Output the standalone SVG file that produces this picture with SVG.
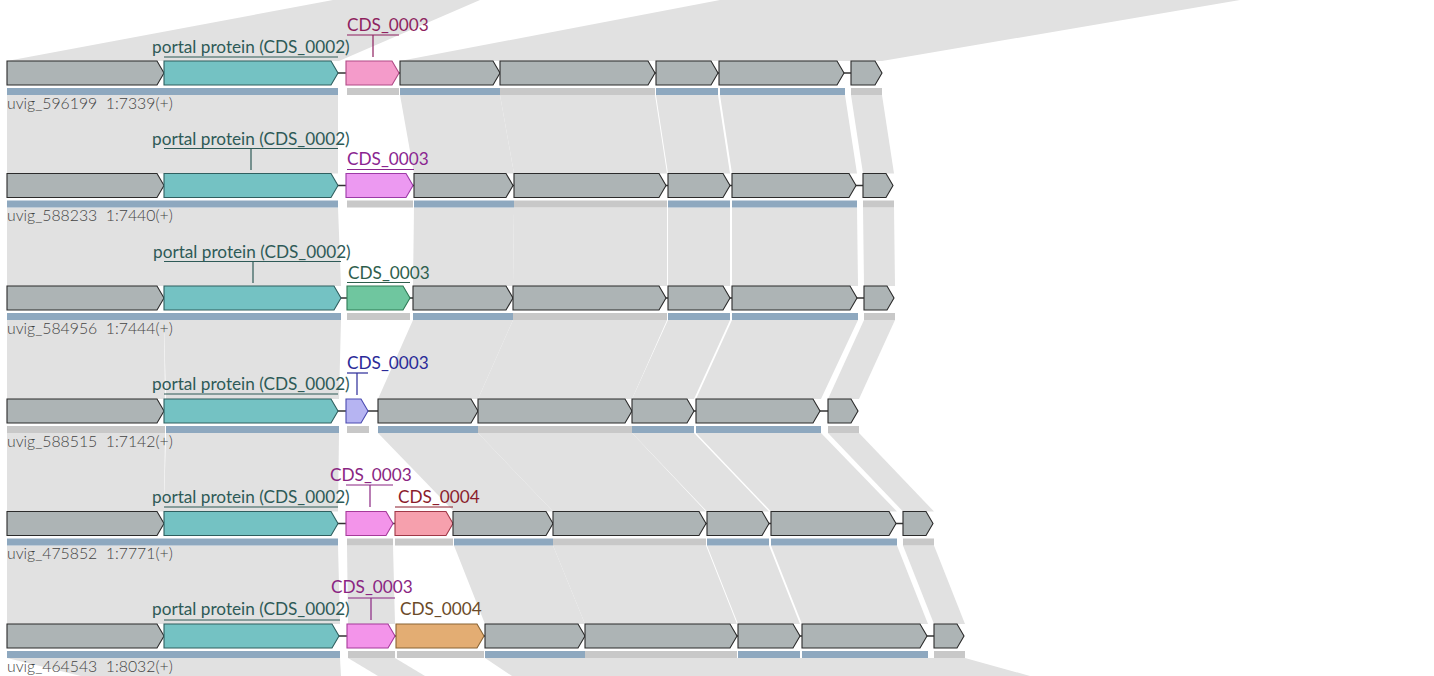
<svg xmlns="http://www.w3.org/2000/svg" width="1434" height="676" viewBox="0 0 1434 676">
<style>
.band{fill:#e1e1e1;stroke:none}
.spine{stroke:#333;stroke-width:1.5}
.g{stroke-width:1.1;stroke-linejoin:miter}
.grey{fill:#adb4b5;stroke:#2b2b2b}
.portal{fill:#74c2c3;stroke:#2f5f5f}
.bb{fill:#8ea8bf}
.bg{fill:#c8c8c8}
.lab{font-family:Lato,"Noto Sans",sans-serif;font-size:17.2px}
.seq{font-family:Lato,"Noto Sans",sans-serif;font-size:15.8px;font-weight:300;fill:#444;white-space:pre}
.pl{fill:#2e5a57}
.ul{stroke-width:1.2;fill:none}
</style>
<g id="links">
<polygon class="band" points="333,0 480,0 339,61 7,61"/>
<polygon class="band" points="720,0 1240,0 882,61 400,61"/>
<polygon class="band" points="7,95 338,95 338,173.5 7,173.5"/>
<polygon class="band" points="400,95 500,95 514,173.5 414,173.5"/>
<polygon class="band" points="500,95 655,95 667,173.5 514,173.5"/>
<polygon class="band" points="656,95 718,95 730,173.5 668,173.5"/>
<polygon class="band" points="720,95 845,95 857,173.5 732,173.5"/>
<polygon class="band" points="851,95 882,95 894,173.5 863,173.5"/>
<polygon class="band" points="7,207.5 338,207.5 341,286 7,286"/>
<polygon class="band" points="414,207.5 514,207.5 513,286 413,286"/>
<polygon class="band" points="514,207.5 667,207.5 667,286 513,286"/>
<polygon class="band" points="668,207.5 730,207.5 730,286 668,286"/>
<polygon class="band" points="732,207.5 857,207.5 858,286 732,286"/>
<polygon class="band" points="863,207.5 894,207.5 895,286 864,286"/>
<polygon class="band" points="7,320 164,320 165,399 7,399"/>
<polygon class="band" points="164,320 341,320 339,399 166,399"/>
<polygon class="band" points="413,320 513,320 478,399 378,399"/>
<polygon class="band" points="513,320 667,320 632,399 478,399"/>
<polygon class="band" points="668,320 730,320 694,399 632,399"/>
<polygon class="band" points="732,320 858,320 821,399 696,399"/>
<polygon class="band" points="864,320 895,320 859,399 828,399"/>
<polygon class="band" points="7,433 165,433 164,511.5 7,511.5"/>
<polygon class="band" points="166,433 339,433 338,511.5 164,511.5"/>
<polygon class="band" points="378,433 478,433 553,511.5 454,511.5"/>
<polygon class="band" points="478,433 632,433 706,511.5 553,511.5"/>
<polygon class="band" points="632,433 694,433 769,511.5 707,511.5"/>
<polygon class="band" points="696,433 821,433 897,511.5 771,511.5"/>
<polygon class="band" points="828,433 859,433 934,511.5 903,511.5"/>
<polygon class="band" points="7,545.5 338,545.5 340,624 7,624"/>
<polygon class="band" points="347,545.5 393,545.5 395,624 348,624"/>
<polygon class="band" points="454,545.5 553,545.5 585,624 485,624"/>
<polygon class="band" points="553,545.5 706,545.5 737,624 585,624"/>
<polygon class="band" points="707,545.5 769,545.5 800,624 738,624"/>
<polygon class="band" points="771,545.5 897,545.5 928,624 802,624"/>
<polygon class="band" points="903,545.5 934,545.5 965,624 934,624"/>
<polygon class="band" points="7,658 340,658 341,676 81,676"/>
<polygon class="band" points="348,658 395,658 425,676 378,676"/>
<polygon class="band" points="485,658 965,658 1030,676 512,676"/>
</g>

<g id="row1">
<line class="spine" x1="7" y1="73" x2="882" y2="73"/>
<g id="r1g1"><polygon class="g grey" points="7,61 157,61 164,73 157,85 7,85"/><rect class="bb" x="7" y="88" width="157" height="7"/></g>
<g id="r1g2"><polygon class="g portal" points="164,61 331,61 338,73 331,85 164,85"/><rect class="bb" x="164" y="88" width="174" height="7"/>
<text class="lab pl" x="152" y="53">portal protein (CDS_0002)</text><line class="ul" stroke="#2e5a57" x1="164" y1="57" x2="338" y2="57"/></g>
<g id="r1g3"><polygon class="g" fill="#f49bca" stroke="#b04a86" points="346,61 392,61 399,73 392,85 346,85"/><rect class="bg" x="347" y="88" width="52" height="7"/>
<text class="lab" fill="#8e1f5e" x="347" y="31">CDS_0003</text><line class="ul" stroke="#8e1f5e" x1="347" y1="35" x2="399" y2="35"/><line class="ul" stroke="#8e1f5e" x1="373" y1="35" x2="373" y2="57"/></g>
<g id="r1g4"><polygon class="g grey" points="400,61 493,61 500,73 493,85 400,85"/><rect class="bb" x="400" y="88" width="100" height="7"/></g>
<g id="r1g5"><polygon class="g grey" points="500,61 648,61 655,73 648,85 500,85"/><rect class="bg" x="500" y="88" width="155" height="7"/></g>
<g id="r1g6"><polygon class="g grey" points="656,61 711,61 718,73 711,85 656,85"/><rect class="bb" x="656" y="88" width="62" height="7"/></g>
<g id="r1g7"><polygon class="g grey" points="719,61 837,61 844,73 837,85 719,85"/><rect class="bb" x="720" y="88" width="125" height="7"/></g>
<g id="r1g8"><polygon class="g grey" points="851,61 875,61 882,73 875,85 851,85"/><rect class="bg" x="851" y="88" width="31" height="7"/></g>
<text class="seq" x="7" y="108.5">uvig_596199  1:7339(+)</text>
</g>

<g id="row2">
<line class="spine" x1="7" y1="185.5" x2="893" y2="185.5"/>
<g id="r2g1"><polygon class="g grey" points="7,173.5 157,173.5 164,185.5 157,197.5 7,197.5"/><rect class="bb" x="7" y="200.5" width="157" height="7"/></g>
<g id="r2g2"><polygon class="g portal" points="164,173.5 331,173.5 338,185.5 331,197.5 164,197.5"/><rect class="bb" x="164" y="200.5" width="174" height="7"/>
<text class="lab pl" x="152" y="145">portal protein (CDS_0002)</text><line class="ul" stroke="#2e5a57" x1="164" y1="148.5" x2="338" y2="148.5"/><line class="ul" stroke="#2e5a57" x1="251" y1="148.5" x2="251" y2="170"/></g>
<g id="r2g3"><polygon class="g" fill="#ec99f1" stroke="#9c3aa6" points="346,173.5 406,173.5 413,185.5 406,197.5 346,197.5"/><rect class="bg" x="347" y="200.5" width="66" height="7"/>
<text class="lab" fill="#8a2590" x="347" y="165">CDS_0003</text><line class="ul" stroke="#8a2590" x1="347" y1="169.5" x2="414" y2="169.5"/></g>
<g id="r2g4"><polygon class="g grey" points="414,173.5 506,173.5 513,185.5 506,197.5 414,197.5"/><rect class="bb" x="414" y="200.5" width="100" height="7"/></g>
<g id="r2g5"><polygon class="g grey" points="514,173.5 659,173.5 666,185.5 659,197.5 514,197.5"/><rect class="bg" x="514" y="200.5" width="153" height="7"/></g>
<g id="r2g6"><polygon class="g grey" points="668,173.5 723,173.5 730,185.5 723,197.5 668,197.5"/><rect class="bb" x="668" y="200.5" width="62" height="7"/></g>
<g id="r2g7"><polygon class="g grey" points="732,173.5 849,173.5 856,185.5 849,197.5 732,197.5"/><rect class="bb" x="732" y="200.5" width="125" height="7"/></g>
<g id="r2g8"><polygon class="g grey" points="863,173.5 886,173.5 893,185.5 886,197.5 863,197.5"/><rect class="bg" x="863" y="200.5" width="31" height="7"/></g>
<text class="seq" x="7" y="221">uvig_588233  1:7440(+)</text>
</g>

<g id="row3">
<line class="spine" x1="7" y1="298" x2="894" y2="298"/>
<g id="r3g1"><polygon class="g grey" points="7,286 157,286 164,298 157,310 7,310"/><rect class="bb" x="7" y="313" width="157" height="7"/></g>
<g id="r3g2"><polygon class="g portal" points="164,286 334,286 341,298 334,310 164,310"/><rect class="bb" x="164" y="313" width="177" height="7"/>
<text class="lab pl" x="153" y="258">portal protein (CDS_0002)</text><line class="ul" stroke="#2e5a57" x1="164" y1="261.5" x2="341" y2="261.5"/><line class="ul" stroke="#2e5a57" x1="253" y1="261.5" x2="253" y2="283"/></g>
<g id="r3g3"><polygon class="g" fill="#6fc69f" stroke="#2e7a55" points="347,286 403,286 410,298 403,310 347,310"/><rect class="bg" x="347" y="313" width="63" height="7"/>
<text class="lab" fill="#2e5e4c" x="348" y="279">CDS_0003</text><line class="ul" stroke="#2e5e4c" x1="347" y1="282.5" x2="410" y2="282.5"/></g>
<g id="r3g4"><polygon class="g grey" points="413,286 506,286 513,298 506,310 413,310"/><rect class="bb" x="413" y="313" width="100" height="7"/></g>
<g id="r3g5"><polygon class="g grey" points="513,286 659,286 666,298 659,310 513,310"/><rect class="bg" x="513" y="313" width="154" height="7"/></g>
<g id="r3g6"><polygon class="g grey" points="668,286 723,286 730,298 723,310 668,310"/><rect class="bb" x="668" y="313" width="62" height="7"/></g>
<g id="r3g7"><polygon class="g grey" points="732,286 850,286 857,298 850,310 732,310"/><rect class="bb" x="732" y="313" width="126" height="7"/></g>
<g id="r3g8"><polygon class="g grey" points="864,286 887,286 894,298 887,310 864,310"/><rect class="bg" x="864" y="313" width="31" height="7"/></g>
<text class="seq" x="7" y="333.5">uvig_584956  1:7444(+)</text>
</g>

<g id="row4">
<line class="spine" x1="7" y1="411" x2="858" y2="411"/>
<g id="r4g1"><polygon class="g grey" points="7,399 157,399 164,411 157,423 7,423"/><rect class="bg" x="7" y="426" width="158" height="7"/></g>
<g id="r4g2"><polygon class="g portal" points="164,399 331,399 338,411 331,423 164,423"/><rect class="bb" x="166" y="426" width="173" height="7"/>
<text class="lab pl" x="152" y="390">portal protein (CDS_0002)</text><line class="ul" stroke="#2e5a57" x1="164" y1="394" x2="338" y2="394"/></g>
<g id="r4g3"><polygon class="g" fill="#b6b4f2" stroke="#4a4ab0" points="346,399 361,399 368,411 361,423 346,423"/><rect class="bg" x="347" y="426" width="22" height="7"/>
<text class="lab" fill="#2a2a98" x="347" y="369">CDS_0003</text><line class="ul" stroke="#2a2a98" x1="347" y1="373" x2="368" y2="373"/><line class="ul" stroke="#2a2a98" x1="357" y1="373" x2="357" y2="395"/></g>
<g id="r4g4"><polygon class="g grey" points="378,399 471,399 478,411 471,423 378,423"/><rect class="bb" x="378" y="426" width="100" height="7"/></g>
<g id="r4g5"><polygon class="g grey" points="478,399 625,399 632,411 625,423 478,423"/><rect class="bg" x="478" y="426" width="154" height="7"/></g>
<g id="r4g6"><polygon class="g grey" points="632,399 687,399 694,411 687,423 632,423"/><rect class="bb" x="632" y="426" width="62" height="7"/></g>
<g id="r4g7"><polygon class="g grey" points="696,399 813,399 820,411 813,423 696,423"/><rect class="bb" x="696" y="426" width="125" height="7"/></g>
<g id="r4g8"><polygon class="g grey" points="828,399 851,399 858,411 851,423 828,423"/><rect class="bg" x="828" y="426" width="31" height="7"/></g>
<text class="seq" x="7" y="446.5">uvig_588515  1:7142(+)</text>
</g>

<g id="row5">
<line class="spine" x1="7" y1="523.5" x2="933" y2="523.5"/>
<g id="r5g1"><polygon class="g grey" points="7,511.5 157,511.5 164,523.5 157,535.5 7,535.5"/><rect class="bb" x="7" y="538.5" width="157" height="7"/></g>
<g id="r5g2"><polygon class="g portal" points="164,511.5 331,511.5 338,523.5 331,535.5 164,535.5"/><rect class="bb" x="164" y="538.5" width="174" height="7"/>
<text class="lab pl" x="152" y="503">portal protein (CDS_0002)</text><line class="ul" stroke="#2e5a57" x1="164" y1="507" x2="338" y2="507"/></g>
<g id="r5g3"><polygon class="g" fill="#f394ea" stroke="#a63a9a" points="346,511.5 386,511.5 393,523.5 386,535.5 346,535.5"/><rect class="bg" x="347" y="538.5" width="46" height="7"/>
<text class="lab" fill="#8a2582" x="330" y="481">CDS_0003</text><line class="ul" stroke="#8a2582" x1="346" y1="485" x2="393" y2="485"/><line class="ul" stroke="#8a2582" x1="370" y1="485" x2="370" y2="507"/></g>
<g id="r5g4"><polygon class="g" fill="#f6a0ad" stroke="#a03848" points="395,511.5 446,511.5 453,523.5 446,535.5 395,535.5"/><rect class="bg" x="395" y="538.5" width="58" height="7"/>
<text class="lab" fill="#8b1c2c" x="398" y="503">CDS_0004</text><line class="ul" stroke="#8b1c2c" x1="395" y1="507" x2="453" y2="507"/></g>
<g id="r5g5"><polygon class="g grey" points="453,511.5 546,511.5 553,523.5 546,535.5 453,535.5"/><rect class="bb" x="454" y="538.5" width="99" height="7"/></g>
<g id="r5g6"><polygon class="g grey" points="553,511.5 699,511.5 706,523.5 699,535.5 553,535.5"/><rect class="bg" x="553" y="538.5" width="153" height="7"/></g>
<g id="r5g7"><polygon class="g grey" points="707,511.5 762,511.5 769,523.5 762,535.5 707,535.5"/><rect class="bb" x="707" y="538.5" width="62" height="7"/></g>
<g id="r5g8"><polygon class="g grey" points="771,511.5 889,511.5 896,523.5 889,535.5 771,535.5"/><rect class="bb" x="771" y="538.5" width="126" height="7"/></g>
<g id="r5g9"><polygon class="g grey" points="903,511.5 926,511.5 933,523.5 926,535.5 903,535.5"/><rect class="bg" x="903" y="538.5" width="31" height="7"/></g>
<text class="seq" x="7" y="559">uvig_475852  1:7771(+)</text>
</g>

<g id="row6">
<line class="spine" x1="7" y1="636" x2="964" y2="636"/>
<g id="r6g1"><polygon class="g grey" points="7,624 157,624 164,636 157,648 7,648"/><rect class="bb" x="7" y="651" width="157" height="7"/></g>
<g id="r6g2"><polygon class="g portal" points="164,624 332,624 339,636 332,648 164,648"/><rect class="bb" x="164" y="651" width="176" height="7"/>
<text class="lab pl" x="152" y="615">portal protein (CDS_0002)</text><line class="ul" stroke="#2e5a57" x1="164" y1="620" x2="340" y2="620"/></g>
<g id="r6g3"><polygon class="g" fill="#f394ea" stroke="#a63a9a" points="347,624 388,624 395,636 388,648 347,648"/><rect class="bg" x="348" y="651" width="47" height="7"/>
<text class="lab" fill="#8a2582" x="331" y="593">CDS_0003</text><line class="ul" stroke="#8a2582" x1="348" y1="598" x2="395" y2="598"/><line class="ul" stroke="#8a2582" x1="371" y1="598" x2="371" y2="620"/></g>
<g id="r6g4"><polygon class="g" fill="#e3ad73" stroke="#8a6535" points="396,624 477,624 484,636 477,648 396,648"/><rect class="bg" x="397" y="651" width="87" height="7"/>
<text class="lab" fill="#6b4a28" x="400" y="615">CDS_0004</text></g>
<g id="r6g5"><polygon class="g grey" points="485,624 578,624 585,636 578,648 485,648"/><rect class="bb" x="485" y="651" width="100" height="7"/></g>
<g id="r6g6"><polygon class="g grey" points="585,624 730,624 737,636 730,648 585,648"/><rect class="bg" x="585" y="651" width="152" height="7"/></g>
<g id="r6g7"><polygon class="g grey" points="738,624 793,624 800,636 793,648 738,648"/><rect class="bb" x="738" y="651" width="62" height="7"/></g>
<g id="r6g8"><polygon class="g grey" points="802,624 920,624 927,636 920,648 802,648"/><rect class="bb" x="802" y="651" width="126" height="7"/></g>
<g id="r6g9"><polygon class="g grey" points="934,624 957,624 964,636 957,648 934,648"/><rect class="bg" x="934" y="651" width="31" height="7"/></g>
<text class="seq" x="7" y="671.5">uvig_464543  1:8032(+)</text>
</g>
</svg>
